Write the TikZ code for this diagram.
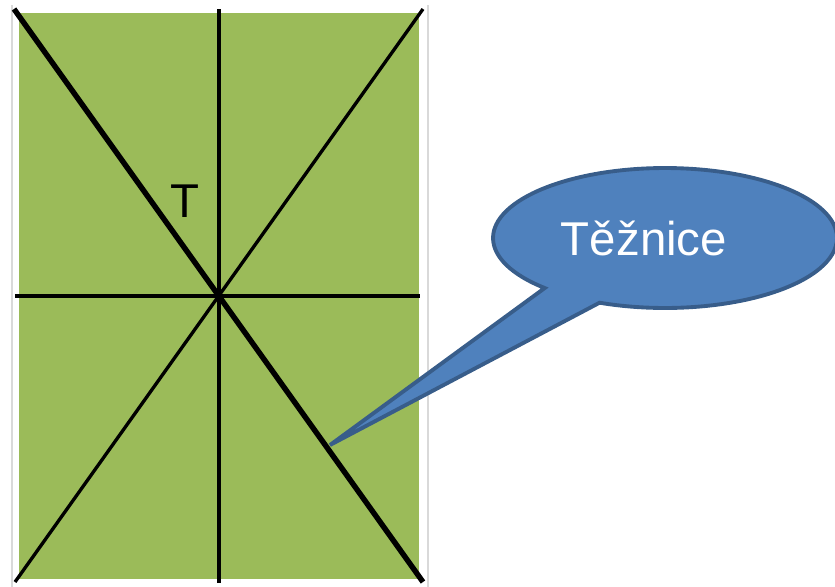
\documentclass[tikz,border=0pt]{standalone}
\usepackage{fontspec}
\setmainfont{Liberation Sans}
\usetikzlibrary{shapes.callouts}
\definecolor{plochaG}{HTML}{9BBB59}
\definecolor{bublinaB}{HTML}{4F81BD}
\definecolor{bublinaD}{HTML}{385D8A}
\tikzset{
  tenka/.style={line width=1.9pt, black},
  tlusta/.style={line width=3.1pt, black},
  bublina/.style={ellipse callout, fill=bublinaB, draw=bublinaD, line width=2.2pt, text=white, font=\fontsize{27}{30}\selectfont, minimum width=6.88cm, minimum height=2.8cm, inner sep=0pt, callout pointer arc=22}
}
\begin{document}
\begin{tikzpicture}[x=0.02cm, y=-0.02cm]
\useasboundingbox (0,0) rectangle (835,586);
\draw[gray!30, line width=1.2pt] (12,5) -- (12,590) (428,5) -- (428,590);
\fill[plochaG] (19,13) rectangle (419,579);
\coordinate (lh) at (14,9); \coordinate (pd) at (423,582);
\coordinate (ph) at (423,9); \coordinate (ld) at (15,582);
\coordinate (h) at (219,9); \coordinate (d) at (219,583);
\coordinate (l) at (15,296); \coordinate (p) at (420,296);
\coordinate (hrot) at (330,445);
\foreach \a/\b in {ph/ld, h/d, l/p} {\draw[tenka] (\a) -- (\b);}
\draw[tlusta] (lh) -- (pd);
\node[anchor=base, font=\fontsize{27}{30}\selectfont] (T) at (185,217) {T};
\node[bublina, callout absolute pointer={(hrot)}] (tez) at (665,238) {Těžnice\kern0.84cm};
\end{tikzpicture}
\end{document}
